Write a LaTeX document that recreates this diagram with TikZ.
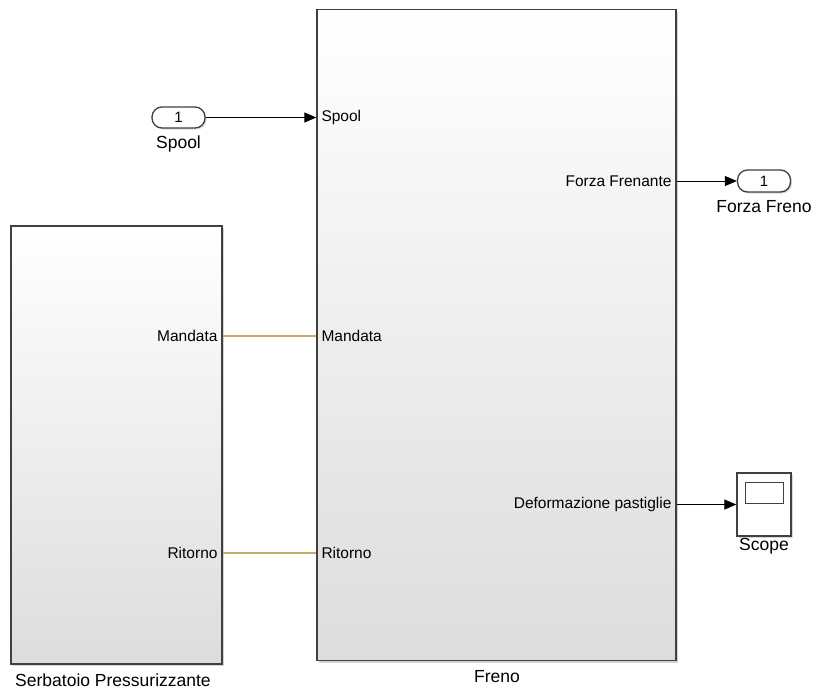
\documentclass[tikz,border=0pt]{standalone}
\usepackage{fontspec}
\setmainfont{Liberation Sans}
\usetikzlibrary{arrows.meta,shadows}
\definecolor{blkborder}{RGB}{64,64,64}
\definecolor{physline}{RGB}{200,170,105}
\tikzset{
  blockbox/.style={draw=blkborder, line width=1.4pt, top color=white, bottom color=gray!27,
    drop shadow={shadow xshift=2pt, shadow yshift=-2pt, opacity=0.35}, inner sep=0pt},
  portbox/.style={draw=blkborder, line width=1.3pt, fill=white, rounded corners=10pt,
    inner sep=0pt, font=\fontsize{15}{17}\selectfont,
    drop shadow={shadow xshift=1.5pt, shadow yshift=-1.5pt, opacity=0.3}},
  scopebox/.style={draw=blkborder, line width=1.3pt, fill=white, inner sep=0pt,
    drop shadow={shadow xshift=1.5pt, shadow yshift=-1.5pt, opacity=0.3}},
  blkname/.style={font=\fontsize{17.5}{20}\selectfont, inner sep=0pt},
  portlbl/.style={font=\fontsize{15.5}{18}\selectfont, inner sep=0pt},
  sig/.style={line width=1pt, -{Triangle[length=12pt,width=10pt]}},
  phys/.style={line width=1.3pt, draw=physline},
}
\begin{document}
\begin{tikzpicture}[x=1pt,y=-1pt]
\useasboundingbox (0,0) rectangle (813,691);
% blocks
\node[blockbox, minimum width=211pt, minimum height=438pt] (serb) at (116.5,445) {};
\node[blockbox, minimum width=359pt, minimum height=651pt] (freno) at (496.5,335) {};
\node[portbox, minimum width=53pt, minimum height=21pt] (inspool) at (178.5,117.5) {1};
\node[portbox, minimum width=53pt, minimum height=22pt] (outforza) at (764,181) {1};
\node[scopebox, minimum width=54pt, minimum height=63pt] (scope) at (764,504.5) {};
\node[draw=blkborder, line width=1.2pt, fill=white, minimum width=38pt, minimum height=21pt, inner sep=0pt] (scopescreen) at (764.5,493) {};
% block names
\node[blkname] (serbname) at (113,680) {Serbatoio Pressurizzante};
\node[blkname] (freninoname) at (497,677) {Freno};
\node[blkname] (spoolname) at (178.5,144) {Spool};
\node[blkname] (forzaname) at (764,207) {Forza Freno};
\node[blkname] (scopename) at (764,546) {Scope};
% port coordinates
\coordinate (fSpool) at (freno.west |- inspool.east);
\coordinate (fForza) at (freno.east |- outforza.west);
\coordinate (fDef) at (freno.east |- scope.west);
\coordinate (fMand) at (freno.west |- 0,336);
\coordinate (sMand) at (serb.east |- 0,336);
\coordinate (fRit) at (freno.west |- 0,553);
\coordinate (sRit) at (serb.east |- 0,553);
% port labels
\node[portlbl, anchor=west] (lSpool) at ([xshift=5pt]fSpool) {Spool};
\node[portlbl, anchor=west] (lMandF) at ([xshift=5pt]fMand) {Mandata};
\node[portlbl, anchor=west] (lRitF) at ([xshift=5pt]fRit) {Ritorno};
\node[portlbl, anchor=east] (lForza) at ([xshift=-5pt]fForza) {Forza Frenante};
\node[portlbl, anchor=east] (lDef) at ([xshift=-5pt]fDef) {Deformazione pastiglie};
\node[portlbl, anchor=east] (lMandS) at ([xshift=-5pt]sMand) {Mandata};
\node[portlbl, anchor=east] (lRitS) at ([xshift=-5pt]sRit) {Ritorno};
% connectors
\draw[sig] (inspool.east) -- (fSpool);
\draw[sig] (fForza) -- (outforza.west);
\draw[sig] (fDef) -- (scope.west);
\draw[phys] (sMand) -- (fMand);
\draw[phys] (sRit) -- (fRit);
\end{tikzpicture}
\end{document}
